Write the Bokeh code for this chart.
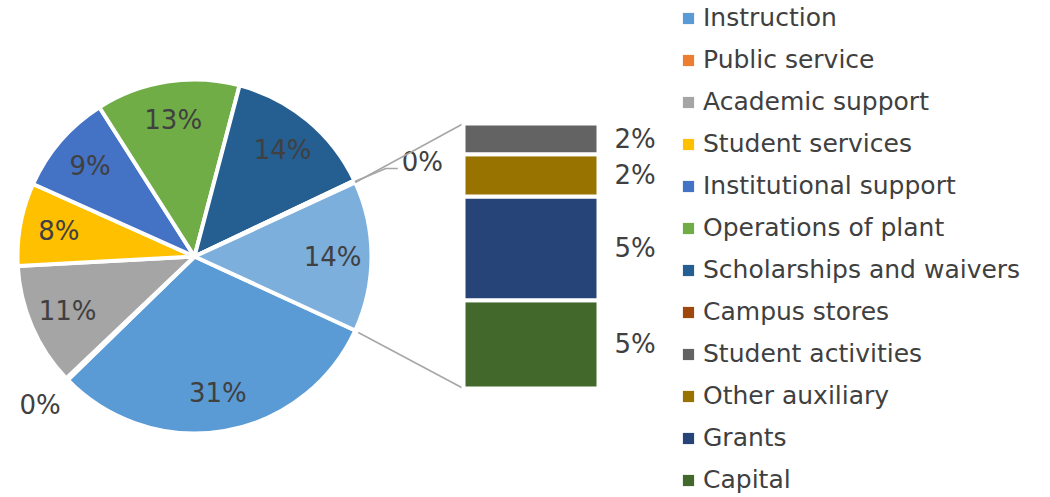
import numpy as np
from bokeh.plotting import figure
from bokeh.models import ColumnDataSource, Legend, LegendItem, Range1d
from bokeh.embed import file_html
from bokeh.resources import INLINE
from bokeh.core.properties import value

# ---------------- data ----------------
categories = ["Instruction", "Public service", "Academic support", "Student services",
              "Institutional support", "Operations of plant", "Scholarships and waivers",
              "Campus stores", "Student activities", "Other auxiliary", "Grants", "Capital"]
pie_categories = categories[:8]
pie_values = [31.0, 0.2, 11.3, 7.6, 9.3, 13.2, 13.9, 0.2]
bar_categories = categories[8:]
bar_values = [1.6, 2.2, 5.4, 4.6]
colors = ["#5B9BD5", "#ED7D31", "#A5A5A5", "#FFC000", "#4472C4", "#70AD47",
          "#255E91", "#9E480E", "#636363", "#997300", "#264478", "#43682B"]
other_color = "#7DAFDD"

# ---------------- layout constants (px) ----------------
W, H = 1050, 497
def px(X, Y):  # page px -> data coords
    return X, H - Y

CX, CY = px(194, 256)
R = 177
BAR_L, BAR_T = px(465, 123)
BAR_R, BAR_B = px(596, 388)
FONT = "DejaVu Sans"
TXT = "#404040"

total = sum(pie_values) + sum(bar_values)
other = sum(bar_values)
of = other / total

p = figure(width=W, height=H, x_range=Range1d(0, W), y_range=Range1d(0, H),
           output_backend="svg", toolbar_location=None, min_border=0)
p.axis.visible = False
p.grid.visible = False
p.outline_line_color = None

# ---------------- pie ----------------
starts, ends, mids = [], [], []
a0 = -np.pi * of
for v in pie_values:
    a1 = a0 - 2 * np.pi * v / total
    starts.append(a1); ends.append(a0); mids.append((a0 + a1) / 2)
    a0 = a1
pie_src = ColumnDataSource(dict(start=starts + [-np.pi * of], end=ends + [np.pi * of],
                                color=colors[:8] + [other_color]))
p.wedge(x=CX, y=CY, radius=R, start_angle="start", end_angle="end", direction="anticlock",
        fill_color="color", line_color="white", line_width=4, source=pie_src)

# pie labels
in_x, in_y, in_t = [], [], []
for v, m in zip(pie_values + [other], mids + [0.0]):
    pct = round(v / total * 100)
    if pct >= 1:
        in_x.append(CX + 0.78 * R * np.cos(m)); in_y.append(CY + 0.78 * R * np.sin(m))
        in_t.append(f"{pct}%")
p.text(x=in_x, y=in_y, text=in_t, text_font=value(FONT), text_font_size="26px",
       text_color=TXT, text_align="center", text_baseline="middle")

# zero slices outside
zi = [i for i, v in enumerate(pie_values) if round(v / total * 100) < 1]
m = mids[zi[0]]
p.text(x=[CX + 1.21 * R * np.cos(m)], y=[CY + 1.21 * R * np.sin(m)],
       text=[f"{round(pie_values[zi[0]] / total * 100)}%"], text_font=value(FONT),
       text_font_size="26px", text_color=TXT, text_align="center", text_baseline="middle")
m = mids[zi[1]]
sx, sy = CX + R * np.cos(m), CY + R * np.sin(m)
p.line(x=[sx, sx + 31, sx + 43], y=[sy, sy + 13, sy + 13], line_color="#A6A6A6", line_width=1.5)
p.text(x=[sx + 47], y=[sy + 19], text=[f"{round(pie_values[zi[1]] / total * 100)}%"],
       text_font=value(FONT), text_font_size="26px", text_color=TXT,
       text_align="left", text_baseline="middle")

# ---------------- connector lines ----------------
p.segment(x0=[CX + R * np.cos(np.pi * of), CX + R * np.cos(-np.pi * of) + 3],
          y0=[CY + R * np.sin(np.pi * of), CY + R * np.sin(-np.pi * of) - 2],
          x1=[BAR_L - 2, BAR_L - 2], y1=[BAR_T, BAR_B],
          line_color="#A6A6A6", line_width=1.5)

# ---------------- secondary stacked bar ----------------
scale = (BAR_T - BAR_B) / other
rev = list(reversed(bar_values))
bottoms = BAR_B + scale * np.concatenate([[0], np.cumsum(rev)[:-1]])
tops = BAR_B + scale * np.cumsum(rev)
bar_src = ColumnDataSource(dict(bottom=bottoms, top=tops, color=list(reversed(colors[8:]))))
p.quad(left=BAR_L - 2, right=BAR_R + 2, bottom="bottom", top="top", fill_color="color",
       line_color="white", line_width=4, source=bar_src)
p.text(x=[BAR_R + 18] * 4, y=list((bottoms + tops) / 2),
       text=[f"{round(v / total * 100)}%" for v in rev], text_font=value(FONT),
       text_font_size="26px", text_color=TXT, text_align="left", text_baseline="middle")

# ---------------- legend ----------------
items = []
for c, lab in zip(colors, categories):
    r = p.scatter(x=[np.nan], y=[np.nan], marker="square", fill_color=c, line_color=None)
    items.append(LegendItem(label=lab, renderers=[r]))
legend = Legend(items=items, location=(674, 3), glyph_width=28, glyph_height=28,
                label_height=28, spacing=13, label_standoff=1, padding=0, margin=0,
                border_line_color=None, background_fill_alpha=0,
                label_text_font=FONT, label_text_font_size="25px", label_text_color=TXT)
p.add_layout(legend)

open("out.html", "w").write(file_html(p, INLINE))
